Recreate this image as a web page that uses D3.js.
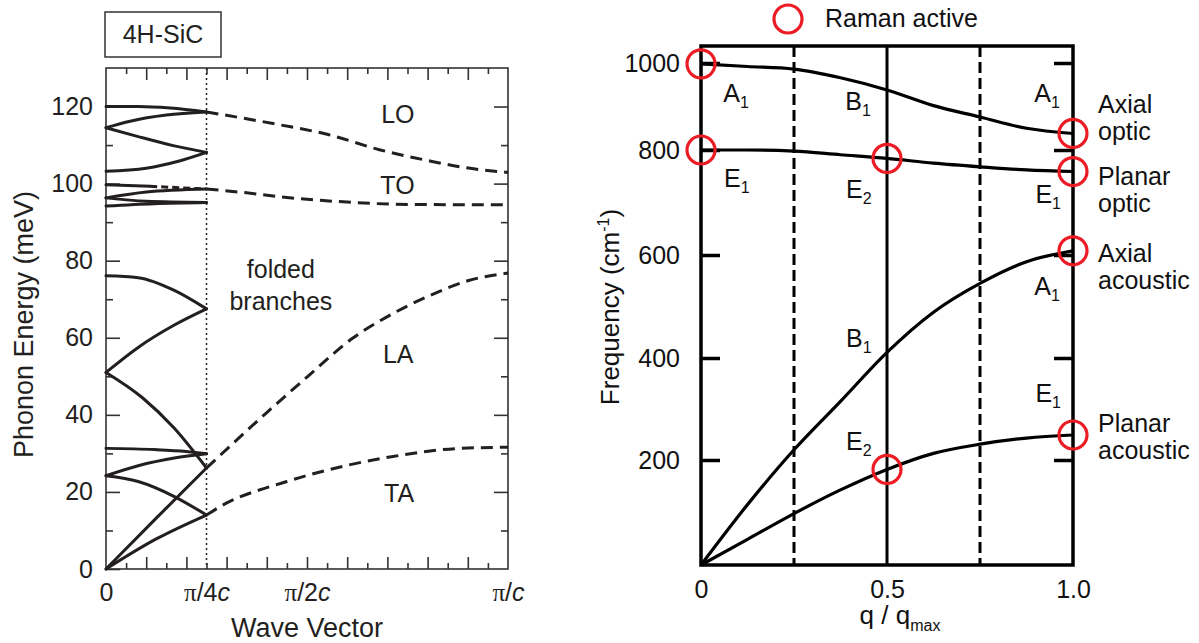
<!DOCTYPE html>
<html>
<head>
<meta charset="utf-8">
<script src="https://cdn.jsdelivr.net/npm/d3@7"></script>
<style>
body{margin:0;background:#fff;}
text{font-family:"Liberation Sans",Arial,Helvetica,sans-serif;}
</style>
</head>
<body>
<svg id="chart" width="1199" height="643"></svg>
<script>
// ------------------------- LEFT PANEL DATA (q in units of pi/c, energy in meV)

var energyTicks = [0, 20, 40, 60, 80, 100, 120];
var energyMinorTicks = [10, 30, 50, 70, 90, 110];
var waveTicksLong = [0.1, 0.2, 0.3, 0.4, 0.5, 0.6, 0.7, 0.8, 0.9];
var waveTicksShort = [0.05, 0.15, 0.25, 0.35, 0.45, 0.55, 0.65, 0.75, 0.85, 0.95];
var waveLabelTicks = [0, 0.25, 0.5, 1];
var waveLabelNames = ["0", "\u03c0/4", "\u03c0/2", "\u03c0/"];

// folded branches inside 0..pi/4c (solid)
var foldedBranches = [
  [[0,120],[0.08,120],[0.16,119.6],[0.25,118.6]],
  [[0,114.5],[0.06,116.2],[0.15,117.8],[0.25,118.6]],
  [[0,114.5],[0.08,112.2],[0.17,109.8],[0.25,108.1]],
  [[0,103.2],[0.1,104],[0.18,105.8],[0.25,108.1]],
  [[0,99.7],[0.11,99.3]],
  [[0,96.3],[0.1,97.8],[0.25,98.6]],
  [[0,96.3],[0.1,95.4],[0.25,95.1]],
  [[0,94.2],[0.12,94.8],[0.25,95.1]],
  [[0,76.1],[0.08,75.6],[0.17,72.3],[0.25,67.5]],
  [[0,51],[0.08,57.5],[0.17,63.3],[0.25,67.5]],
  [[0,51],[0.09,44.5],[0.17,36.5],[0.25,26.2]],
  [[0,31.3],[0.12,31],[0.2,30.5],[0.25,29.9]],
  [[0,24.2],[0.08,26.8],[0.17,28.8],[0.25,29.9]],
  [[0,24.2],[0.08,22.7],[0.17,18.8],[0.25,14]],
  [[0,0],[0.125,13.2],[0.25,26.2]],
  [[0,0],[0.125,7.8],[0.25,14]]
];

// short dashed piece of a folded branch
var foldedDashed = [
  [[0.11,99.3],[0.25,98.6]]
];

// extended zone branches (dashed)
var branchLO = [[0.25,118.6],[0.43,115.3],[0.55,112.8],[0.68,108.8],[0.8,106],[0.89,104.2],[1,102.9]];
var branchTO = [[0.25,98.6],[0.35,97.6],[0.45,96.4],[0.6,95.2],[0.75,94.6],[1,94.5]];
var branchLA = [[0.25,26.2],[0.4,40.6],[0.5,49.8],[0.615,60],[0.7,65.5],[0.8,70.7],[0.9,74.8],[1,76.8]];
var branchTA = [[0.25,14],[0.284,16.2],[0.45,22.7],[0.6,26.9],[0.714,29.2],[0.88,31.3],[1,31.6]];

var branchNames = [
  {text:"LO", q:0.726, e:115.6},
  {text:"TO", q:0.725, e:97.3},
  {text:"LA", q:0.727, e:53.4},
  {text:"TA", q:0.729, e:17.5}
];
var foldedNote = [{text:"folded", q:0.435, e:75.4}, {text:"branches", q:0.435, e:67.2}];

// ------------------------- RIGHT PANEL DATA (q / qmax, frequency in cm-1)

var qValues = [0, 0.125, 0.25, 0.375, 0.5, 0.625, 0.75, 0.875, 1];
var axialOptic     = [998, 992, 986, 966, 938, 902, 876, 850, 838];
var planarOptic    = [800, 800, 798, 791, 784, 775, 768, 762, 759];
var axialAcoustic  = [0, 115, 220, 315, 411, 489, 545, 587, 608];
var planarAcoustic = [0, 49, 98, 143, 182, 213, 231, 243, 249];

var freqTicks = [200, 400, 600, 800, 1000];
var qTicks = [0, 0.5, 1];
var zoneLinesDashed = [0.25, 0.75];
var zoneLinesSolid = [0.5];

var ramanActive = [
  {q:0, f:998}, {q:0, f:800}, {q:0.5, f:784}, {q:1, f:838},
  {q:1, f:759}, {q:1, f:608}, {q:0.5, f:182}, {q:1, f:249}
];

var modeNames = [
  {main:"A", sub:"1", q:0.06, f:910},
  {main:"B", sub:"1", q:0.388, f:892},
  {main:"A", sub:"1", q:0.896, f:910},
  {main:"E", sub:"1", q:0.062, f:729},
  {main:"E", sub:"2", q:0.39, f:708},
  {main:"E", sub:"1", q:0.899, f:699},
  {main:"A", sub:"1", q:0.896, f:522},
  {main:"B", sub:"1", q:0.39, f:421},
  {main:"E", sub:"1", q:0.899, f:314},
  {main:"E", sub:"2", q:0.39, f:220}
];

var branchTypes = [
  {lines:["Axial","optic"], f:885},
  {lines:["Planar","optic"], f:733},
  {lines:["Axial","acoustic"], f:586},
  {lines:["Planar","acoustic"], f:255}
];

var svg = d3.select("#chart");
var ink = "#231f20";

// ------------------------- LEFT PANEL

var xL = d3.scaleLinear().domain([0, 1]).range([106, 508]);
var yL = d3.scaleLinear().domain([0, 130]).range([569, 68]);
var gL = svg.append("g");

var lineL = d3.line()
  .x(function(d){ return xL(d[0]); })
  .y(function(d){ return yL(d[1]); })
  .curve(d3.curveMonotoneX);

// sample box
gL.append("rect")
  .attr("x", 105).attr("y", 12).attr("width", 116).attr("height", 45)
  .attr("fill", "none").attr("stroke", "#333").attr("stroke-width", 1.5);
gL.append("text").attr("x", 163).attr("y", 43).attr("text-anchor", "middle")
  .attr("font-size", 25).attr("fill", ink).text("4H-SiC");

function styleTicks(g){
  g.select(".domain").remove();
  g.selectAll(".tick line").attr("stroke", "#333").attr("stroke-width", 1.6);
  g.attr("font-family", null);
}

// y ticks (inward, both sides)
gL.append("g").attr("transform", "translate(" + xL(0) + ",0)")
  .call(d3.axisLeft(yL).tickValues(energyTicks).tickSize(-14).tickPadding(13))
  .call(styleTicks)
  .attr("font-size", 25)
  .selectAll("text").attr("fill", ink);
gL.append("g").attr("transform", "translate(" + xL(0) + ",0)")
  .call(d3.axisLeft(yL).tickValues(energyMinorTicks).tickSize(-7).tickFormat(""))
  .call(styleTicks);
gL.append("g").attr("transform", "translate(" + xL(1) + ",0)")
  .call(d3.axisRight(yL).tickValues(energyTicks.slice(1)).tickSize(-14).tickFormat(""))
  .call(styleTicks);
gL.append("g").attr("transform", "translate(" + xL(1) + ",0)")
  .call(d3.axisRight(yL).tickValues(energyMinorTicks).tickSize(-7).tickFormat(""))
  .call(styleTicks);

// x ticks (inward, top and bottom)
gL.append("g").attr("transform", "translate(0," + yL(0) + ")")
  .call(d3.axisBottom(xL).tickValues(waveTicksLong).tickSize(-12).tickFormat(""))
  .call(styleTicks);
gL.append("g").attr("transform", "translate(0," + yL(0) + ")")
  .call(d3.axisBottom(xL).tickValues(waveTicksShort).tickSize(-6).tickFormat(""))
  .call(styleTicks);
gL.append("g").attr("transform", "translate(0," + yL(130) + ")")
  .call(d3.axisTop(xL).tickValues(waveTicksLong).tickSize(-12).tickFormat(""))
  .call(styleTicks);
gL.append("g").attr("transform", "translate(0," + yL(130) + ")")
  .call(d3.axisTop(xL).tickValues(waveTicksShort).tickSize(-6).tickFormat(""))
  .call(styleTicks);

// x tick labels with italic c
var xLab = gL.append("g").attr("transform", "translate(0," + yL(0) + ")")
  .call(d3.axisBottom(xL).tickValues(waveLabelTicks).tickSize(0).tickPadding(14)
    .tickFormat(function(d, i){ return ""; }))
  .call(styleTicks)
  .attr("font-size", 25);
xLab.selectAll("text").attr("fill", ink).each(function(d, i){
  var t = d3.select(this);
  var name = waveLabelNames[i];
  if (i === 0) { t.text(name); return; }
  t.append("tspan").attr("font-family", "'Liberation Serif', 'Times New Roman', serif").text(name.charAt(0));
  t.append("tspan").text(name.slice(1));
  t.append("tspan").attr("font-style", "italic").text("c");
});

// dotted zone boundary at pi/4c
gL.append("line")
  .attr("x1", xL(0.25)).attr("x2", xL(0.25))
  .attr("y1", yL(130)).attr("y2", yL(0))
  .attr("stroke", ink).attr("stroke-width", 1.5).attr("stroke-dasharray", "2,3");

// frame
gL.append("rect")
  .attr("x", xL(0)).attr("y", yL(130))
  .attr("width", xL(1) - xL(0)).attr("height", yL(0) - yL(130))
  .attr("fill", "none").attr("stroke", "#333").attr("stroke-width", 1.6);

// folded branches
gL.selectAll("path.folded")
  .data(foldedBranches)
  .enter().append("path")
  .attr("class", "folded")
  .attr("fill", "none").attr("stroke", ink).attr("stroke-width", 3)
  .attr("stroke-linecap", "round")
  .attr("d", lineL);

gL.selectAll("path.foldedDash")
  .data(foldedDashed)
  .enter().append("path")
  .attr("class", "foldedDash")
  .attr("fill", "none").attr("stroke", ink).attr("stroke-width", 3)
  .attr("stroke-dasharray", "7,4")
  .attr("d", lineL);

gL.selectAll("path.extended")
  .data([branchLO, branchTO, branchLA, branchTA])
  .enter().append("path")
  .attr("class", "extended")
  .attr("fill", "none").attr("stroke", ink).attr("stroke-width", 3)
  .attr("stroke-dasharray", "12,7")
  .attr("d", lineL);

gL.selectAll("text.branch")
  .data(branchNames.concat(foldedNote))
  .enter().append("text")
  .attr("class", "branch")
  .attr("x", function(d){ return xL(d.q); })
  .attr("y", function(d){ return yL(d.e); })
  .attr("text-anchor", "middle").attr("font-size", 25).attr("fill", ink)
  .text(function(d){ return d.text; });

// axis titles
gL.append("text")
  .attr("transform", "translate(33," + ((yL(0) + yL(130)) / 2 + 6) + ") rotate(-90)")
  .attr("text-anchor", "middle").attr("font-size", 27).attr("fill", ink)
  .text("Phonon Energy (meV)");
gL.append("text")
  .attr("x", xL(0.5)).attr("y", 637)
  .attr("text-anchor", "middle").attr("font-size", 27).attr("fill", ink)
  .text("Wave Vector");

// ------------------------- RIGHT PANEL

var xR = d3.scaleLinear().domain([0, 1]).range([701, 1073]);
// the printed frequency axis is not evenly spaced, so use a piecewise scale
var yR = d3.scaleLinear()
  .domain([0, 200, 400, 600, 800, 1000, 1040])
  .range([565, 460, 358, 255, 150, 63, 46]);
var gR = svg.append("g");

var lineR = d3.line()
  .x(function(d){ return xR(d[0]); })
  .y(function(d){ return yR(d[1]); })
  .curve(d3.curveMonotoneX);

function pairs(vals){
  return qValues.map(function(q, i){ return [q, vals[i]]; });
}

function styleTicksR(g){
  g.select(".domain").remove();
  g.selectAll(".tick line").attr("stroke", "#000").attr("stroke-width", 3.5);
  g.attr("font-family", null);
}

gR.append("g").attr("transform", "translate(" + xR(0) + ",0)")
  .call(d3.axisLeft(yR).tickValues(freqTicks).tickSize(-19).tickPadding(21).tickFormat(d3.format("d")))
  .call(styleTicksR)
  .attr("font-size", 25)
  .selectAll("text").attr("fill", "#111");
gR.append("g").attr("transform", "translate(" + xR(1) + ",0)")
  .call(d3.axisRight(yR).tickValues(freqTicks).tickSize(-19).tickFormat(""))
  .call(styleTicksR);
gR.append("g").attr("transform", "translate(0," + yR(0) + ")")
  .call(d3.axisBottom(xR).tickValues(qTicks).tickSize(0).tickPadding(15)
    .tickFormat(function(d){ return d === 0 ? "0" : d3.format(".1f")(d); }))
  .call(styleTicksR)
  .attr("font-size", 25)
  .selectAll("text").attr("fill", "#111");

// zone lines
gR.selectAll("line.zoneDash")
  .data(zoneLinesDashed)
  .enter().append("line")
  .attr("class", "zoneDash")
  .attr("x1", function(d){ return xR(d); }).attr("x2", function(d){ return xR(d); })
  .attr("y1", yR(1040)).attr("y2", yR(0))
  .attr("stroke", "#000").attr("stroke-width", 3).attr("stroke-dasharray", "11,5");
gR.selectAll("line.zoneSolid")
  .data(zoneLinesSolid)
  .enter().append("line")
  .attr("class", "zoneSolid")
  .attr("x1", function(d){ return xR(d); }).attr("x2", function(d){ return xR(d); })
  .attr("y1", yR(1040)).attr("y2", yR(0))
  .attr("stroke", "#000").attr("stroke-width", 3);

// frame
gR.append("rect")
  .attr("x", xR(0)).attr("y", yR(1040))
  .attr("width", xR(1) - xR(0)).attr("height", yR(0) - yR(1040))
  .attr("fill", "none").attr("stroke", "#000").attr("stroke-width", 3.5);

// dispersion curves
gR.selectAll("path.mode")
  .data([axialOptic, planarOptic, axialAcoustic, planarAcoustic].map(pairs))
  .enter().append("path")
  .attr("class", "mode")
  .attr("fill", "none").attr("stroke", "#000").attr("stroke-width", 3.2)
  .attr("d", lineR);

// Raman active circles
gR.selectAll("circle.raman")
  .data(ramanActive)
  .enter().append("circle")
  .attr("class", "raman")
  .attr("cx", function(d){ return xR(d.q); })
  .attr("cy", function(d){ return yR(d.f); })
  .attr("r", 14)
  .attr("fill", "none").attr("stroke", "#ec1c24").attr("stroke-width", 3.2);

// legend
gR.append("circle").attr("cx", 788).attr("cy", 19).attr("r", 14)
  .attr("fill", "none").attr("stroke", "#ec1c24").attr("stroke-width", 3.2);
gR.append("text").attr("x", 825).attr("y", 27).attr("font-size", 25).attr("fill", "#111")
  .text("Raman active");

// symmetry labels
var ml = gR.selectAll("text.modeName")
  .data(modeNames)
  .enter().append("text")
  .attr("class", "modeName")
  .attr("x", function(d){ return xR(d.q); })
  .attr("y", function(d){ return yR(d.f); })
  .attr("font-size", 25).attr("fill", "#111");
ml.append("tspan").text(function(d){ return d.main; });
ml.append("tspan").attr("font-size", 16).attr("dy", 6).text(function(d){ return d.sub; });

// branch type labels on the right
var bt = gR.selectAll("text.branchType")
  .data(branchTypes)
  .enter().append("text")
  .attr("class", "branchType")
  .attr("x", xR(1) + 25)
  .attr("y", function(d){ return yR(d.f); })
  .attr("font-size", 25).attr("fill", "#111");
bt.append("tspan").text(function(d){ return d.lines[0]; });
bt.append("tspan").attr("x", xR(1) + 25).attr("dy", 27).text(function(d){ return d.lines[1]; });

// axis titles
var ft = gR.append("text")
  .attr("transform", "translate(619," + 307 + ") rotate(-90)")
  .attr("text-anchor", "middle").attr("font-size", 26).attr("fill", "#111");
ft.append("tspan").text("Frequency (cm");
ft.append("tspan").attr("font-size", 16).attr("dy", -10).text("-1");
ft.append("tspan").attr("dy", 10).text(")");

var qt = gR.append("text")
  .attr("x", xR(0.5) + 13).attr("y", 624)
  .attr("text-anchor", "middle").attr("font-size", 26).attr("fill", "#111");
qt.append("tspan").text("q / q");
qt.append("tspan").attr("font-size", 16).attr("dy", 7).text("max");
</script>
</body>
</html>
